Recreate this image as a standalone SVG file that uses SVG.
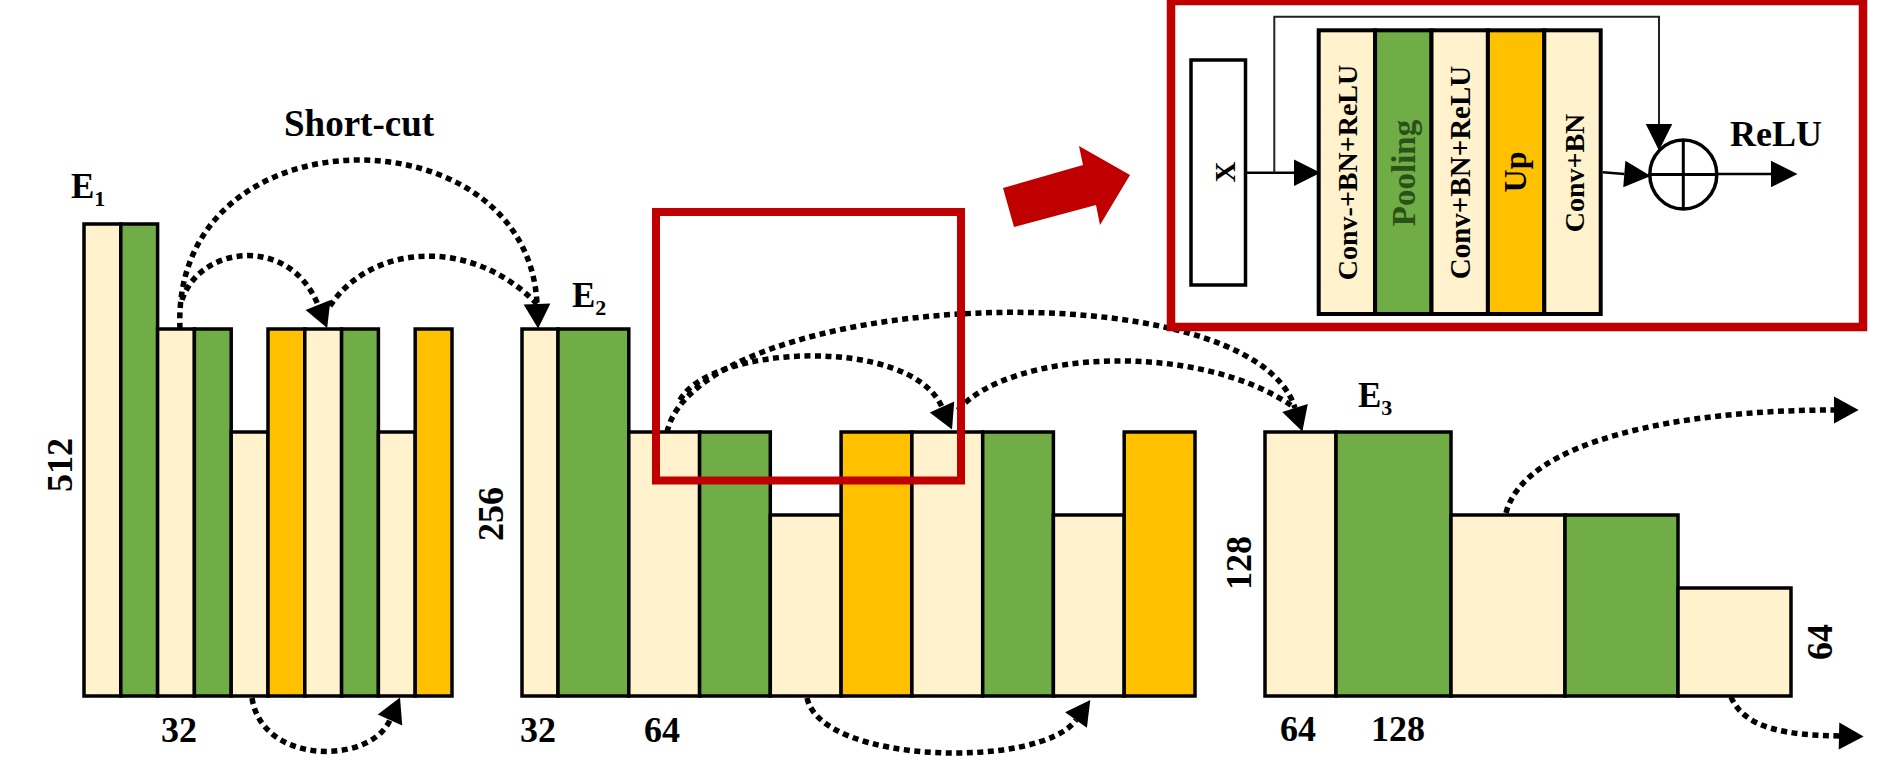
<svg xmlns="http://www.w3.org/2000/svg" width="1890" height="768" viewBox="0 0 1890 768">
<defs>
<style>
.c{fill:#FFF2CC;stroke:#000;stroke-width:3.5}
.g{fill:#70AD47;stroke:#000;stroke-width:3.5}
.y{fill:#FFC000;stroke:#000;stroke-width:3.5}
.ic{fill:#FFF2CC;stroke:#000;stroke-width:4}
.ig{fill:#70AD47;stroke:#000;stroke-width:4}
.iy{fill:#FFC000;stroke:#000;stroke-width:4}
.t{font-family:"Liberation Serif","Times New Roman",serif;font-weight:bold;fill:#000}
.num{font-size:36px}
.dot{fill:none;stroke:#000;stroke-width:5.5;stroke-dasharray:6 4.5}
.ln{fill:none;stroke:#000;stroke-width:2.5}
</style>
<marker id="da" markerUnits="userSpaceOnUse" markerWidth="30" markerHeight="30" viewBox="0 -14 24 28" refX="0" refY="0" orient="auto"><path d="M0,-12.5 L23,0 L0,12.5 z" fill="#000"/></marker>
<marker id="sa" markerUnits="userSpaceOnUse" markerWidth="30" markerHeight="30" viewBox="0 -13 24 26" refX="0" refY="0" orient="auto"><path d="M0,-11.5 L23,0 L0,11.5 z" fill="#000"/></marker>
</defs>
<rect width="1890" height="768" fill="#fff"/>

<g id="E1">
<rect class="c" x="84" y="224" width="36.8" height="472"/>
<rect class="g" x="120.8" y="224" width="36.8" height="472"/>
<rect class="c" x="157.6" y="329" width="36.8" height="367"/>
<rect class="g" x="194.4" y="329" width="36.8" height="367"/>
<rect class="c" x="231.2" y="432" width="36.8" height="264"/>
<rect class="y" x="268" y="329" width="36.8" height="367"/>
<rect class="c" x="304.8" y="329" width="36.8" height="367"/>
<rect class="g" x="341.6" y="329" width="36.8" height="367"/>
<rect class="c" x="378.4" y="432" width="36.8" height="264"/>
<rect class="y" x="415.2" y="329" width="36.8" height="367"/>
<text class="t" x="71" y="198" font-size="35">E<tspan font-size="22" dy="8">1</tspan></text>
<text class="t num" transform="translate(72,465) rotate(-90)" text-anchor="middle">512</text>
<text class="t num" x="179" y="742" text-anchor="middle">32</text>
</g>

<g id="E2">
<rect class="c" x="522" y="329" width="36" height="367"/>
<rect class="g" x="558" y="329" width="70.8" height="367"/>
<rect class="c" x="628.8" y="432" width="70.8" height="264"/>
<rect class="g" x="699.6" y="432" width="70.7" height="264"/>
<rect class="c" x="770.3" y="515" width="70.8" height="181"/>
<rect class="y" x="841.1" y="432" width="70.8" height="264"/>
<rect class="c" x="911.9" y="432" width="70.8" height="264"/>
<rect class="g" x="982.7" y="432" width="70.7" height="264"/>
<rect class="c" x="1053.4" y="515" width="70.8" height="181"/>
<rect class="y" x="1124.2" y="432" width="70.8" height="264"/>
<text class="t" x="572" y="307" font-size="35">E<tspan font-size="22" dy="8">2</tspan></text>
<text class="t num" transform="translate(503,514) rotate(-90)" text-anchor="middle">256</text>
<text class="t num" x="538" y="742" text-anchor="middle">32</text>
<text class="t num" x="662" y="742" text-anchor="middle">64</text>
</g>

<g id="E3">
<rect class="c" x="1265" y="432" width="71" height="264"/>
<rect class="g" x="1336" y="432" width="115" height="264"/>
<rect class="c" x="1451" y="515" width="114" height="181"/>
<rect class="g" x="1565" y="515" width="113" height="181"/>
<rect class="c" x="1678" y="588" width="113" height="108"/>
<text class="t" x="1358" y="407" font-size="35">E<tspan font-size="22" dy="8">3</tspan></text>
<text class="t num" transform="translate(1251,563) rotate(-90)" text-anchor="middle">128</text>
<text class="t num" transform="translate(1832,642) rotate(-90)" text-anchor="middle">64</text>
<text class="t num" x="1298" y="741" text-anchor="middle">64</text>
<text class="t num" x="1398" y="741" text-anchor="middle">128</text>
</g>

<g id="shortcut-label">
<text class="t" x="284" y="136" font-size="37">Short-cut</text>
</g>

<g id="connectors">
<path class="dot" d="M180,329 C170,108 528,108 537,304" marker-end="url(#da)"/>
<path class="dot" d="M182,300 C200,245 290,235 318,305" marker-end="url(#da)"/>
<path class="dot" d="M330,306 C370,245 470,235 537,304"/>
<path class="dot" d="M252,698 C262,765 370,765 390,720" marker-end="url(#da)"/>
<path class="dot" d="M667,432 C700,290 1250,265 1295,408" marker-end="url(#da)"/>
<path class="dot" d="M680,400 C710,345 910,335 942,407" marker-end="url(#da)"/>
<path class="dot" d="M958,410 C1010,350 1200,340 1295,408"/>
<path class="dot" d="M807,698 C822,765 1041,769 1076,720" marker-end="url(#da)"/>
<path class="dot" d="M1506,513 C1525,440 1680,410 1834,410" marker-end="url(#da)"/>
<path class="dot" d="M1731,697 C1745,730 1790,735 1839,736" marker-end="url(#da)"/>
</g>

<g id="highlight">
<rect x="656" y="212" width="305" height="268.5" fill="none" stroke="#C00000" stroke-width="8"/>
</g>

<g id="zoom-arrow">
<polygon points="1003,188 1083,165 1079,146 1130,175 1100,225 1096,205 1014,227" fill="#C00000"/>
</g>

<g id="inset">
<rect x="1171" y="1" width="692" height="326" fill="#fff" stroke="#C00000" stroke-width="8.5"/>
<g id="inset-x">
<rect x="1191" y="60" width="54.5" height="225" fill="#fff" stroke="#000" stroke-width="3.5"/>
<text class="t" font-size="29" transform="translate(1235,172) rotate(-90)" text-anchor="middle">X</text>
</g>
<g id="inset-stack">
<rect class="ic" x="1318.7" y="30.3" width="56.4" height="283.7"/>
<rect class="ig" x="1375.1" y="30.3" width="56.4" height="283.7"/>
<rect class="ic" x="1431.5" y="30.3" width="56.4" height="283.7"/>
<rect class="iy" x="1487.9" y="30.3" width="56.4" height="283.7"/>
<rect class="ic" x="1544.3" y="30.3" width="56.4" height="283.7"/>
<text class="t" font-size="28" transform="translate(1357,172.5) rotate(-90)" text-anchor="middle">Conv-+BN+ReLU</text>
<text class="t" font-size="33" style="fill:#2A5218" transform="translate(1415,173) rotate(-90)" text-anchor="middle">Pooling</text>
<text class="t" font-size="29" transform="translate(1469.5,172.5) rotate(-90)" text-anchor="middle">Conv+BN+ReLU</text>
<text class="t" font-size="32" transform="translate(1526,172) rotate(-90)" text-anchor="middle">Up</text>
<text class="t" font-size="28" transform="translate(1584,173) rotate(-90)" text-anchor="middle">Conv+BN</text>
</g>
<g id="inset-sum">
<ellipse cx="1683.3" cy="174.5" rx="33.5" ry="34.5" fill="#fff" stroke="#000" stroke-width="3.5"/>
<line x1="1683.3" y1="140" x2="1683.3" y2="209" stroke="#000" stroke-width="3"/>
<line x1="1649.8" y1="174.5" x2="1716.8" y2="174.5" stroke="#000" stroke-width="3"/>
</g>
<text class="t" x="1730" y="146" font-size="36">ReLU</text>
<g id="inset-connectors">
<line class="ln" x1="1247" y1="172.7" x2="1294" y2="172.7" marker-end="url(#sa)"/>
<polyline fill="none" stroke="#222" stroke-width="2" points="1274.3,172.7 1274.3,16.7 1659,16.7 1659,124" marker-end="url(#sa)"/>
<line class="ln" x1="1602.7" y1="172.3" x2="1624.3" y2="174" marker-end="url(#sa)"/>
<line class="ln" x1="1717" y1="174" x2="1771" y2="174" marker-end="url(#sa)"/>
</g>
</g>
</svg>
